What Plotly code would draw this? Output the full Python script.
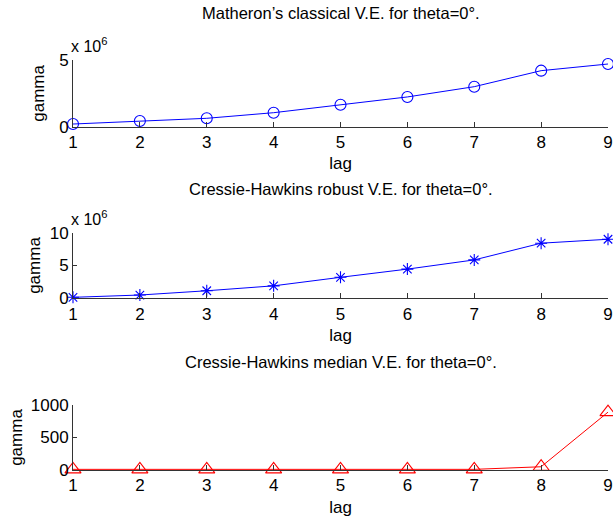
import plotly.graph_objects as go

# ---- data ----
lags = [1, 2, 3, 4, 5, 6, 7, 8, 9]
gamma_matheron_e6 = [0.2, 0.43, 0.63, 1.05, 1.65, 2.23, 3.0, 4.2, 4.7]      # x 10^6
gamma_robust_e6 = [0.15, 0.5, 1.15, 1.9, 3.2, 4.45, 5.85, 8.4, 9.0]          # x 10^6
gamma_median = [10, 10, 10, 10, 10, 10, 10, 50, 890]

titles = ["Matheron\u2019s classical V.E. for theta=0\u00b0.",
          "Cressie-Hawkins robust V.E. for theta=0\u00b0.",
          "Cressie-Hawkins median V.E. for theta=0\u00b0."]
y_ticks = [[0, 5], [0, 5, 10], [0, 500, 1000]]
y_ranges = [[0, 5], [0, 10], [0, 1000]]

W, H = 613, 520
FONT = "Liberation Sans, Arial, sans-serif"
AX = "#333333"

x_dom = [73 / W, 608 / W]
# (top px, bottom px) of each axes box
boxes = [(60, 126.7), (232.7, 298.3), (405, 470)]
y_doms = [[1 - b / H, 1 - t / H] for t, b in boxes]

fig = go.Figure()

fig.add_trace(go.Scatter(x=lags, y=gamma_matheron_e6, mode="lines+markers",
                         line=dict(color="#0000ff", width=1), cliponaxis=False,
                         marker=dict(symbol="circle-open", size=11,
                                     line=dict(color="#0000ff", width=1.1)),
                         xaxis="x", yaxis="y", showlegend=False))
fig.add_trace(go.Scatter(x=lags, y=gamma_robust_e6, mode="lines+markers",
                         line=dict(color="#0000ff", width=1), cliponaxis=False,
                         marker=dict(symbol="asterisk-open", size=10,
                                     line=dict(color="#0000ff", width=1.1)),
                         xaxis="x2", yaxis="y2", showlegend=False))
fig.add_trace(go.Scatter(x=lags, y=gamma_median, mode="lines+markers",
                         line=dict(color="#ff0000", width=1), cliponaxis=False,
                         marker=dict(symbol="triangle-up-open", size=14,
                                     line=dict(color="#ff0000", width=1.1)),
                         xaxis="x3", yaxis="y3", showlegend=False))

layout = dict(width=W, height=H, margin=dict(l=0, r=0, t=0, b=0),
              paper_bgcolor="white", plot_bgcolor="white",
              font=dict(family=FONT, size=17, color="black"))

standoffs = [10, 4, 3]
for i in range(3):
    sx = "" if i == 0 else str(i + 1)
    layout["xaxis" + sx] = dict(
        domain=x_dom, anchor="y" + sx, range=[1, 9], tickvals=lags,
        showline=True, linecolor=AX, linewidth=1, mirror=False,
        ticks="inside", ticklen=5, tickcolor=AX, showgrid=False, zeroline=False,
        tickfont=dict(size=17), automargin=False,
        title=dict(text="lag", font=dict(size=17), standoff=6))
    layout["yaxis" + sx] = dict(
        domain=y_doms[i], anchor="x" + sx, range=y_ranges[i], tickvals=y_ticks[i],
        showline=True, linecolor=AX, linewidth=1, mirror=False,
        ticks="inside", ticklen=4, tickcolor=AX, showgrid=False, zeroline=False,
        tickfont=dict(size=17), automargin=False,
        title=dict(text="gamma", font=dict(size=17), standoff=standoffs[i]))

title_y = [13, 189, 362]
annotations = []
for i in range(3):
    annotations.append(dict(text=titles[i], x=(x_dom[0] + x_dom[1]) / 2, xref="paper",
                            y=1 - title_y[i] / H, yref="paper", showarrow=False,
                            xanchor="center", yanchor="middle", font=dict(size=16.5)))
for ypx in [45, 218]:
    annotations.append(dict(text="x 10<sup>6</sup>", x=69 / W, xref="paper",
                            y=1 - ypx / H, yref="paper", showarrow=False,
                            xanchor="left", yanchor="middle", font=dict(size=16)))
layout["annotations"] = annotations

fig.update_layout(**layout)
fig.write_html("out.html")
